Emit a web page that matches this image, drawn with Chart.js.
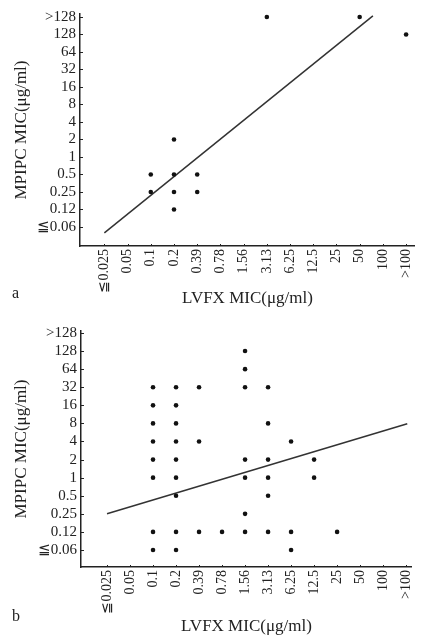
<!DOCTYPE html>
<html>
<head>
<meta charset="utf-8">
<script src="https://cdn.jsdelivr.net/npm/chart.js@4.4.1/dist/chart.umd.min.js"></script>
<style>
  body { margin: 0; background: #fff; width: 426px; height: 635px; position: relative; overflow: hidden; font-family: "Liberation Serif", serif; color: #222; }
  canvas { position: absolute; left: 0; }
  #chartA { top: 0; }
  #chartB { top: 318px; }
  .tag { position: absolute; left: 12px; font-size: 16px; line-height: 16px; }
</style>
</head>
<body>
<canvas id="chartA" width="426" height="318"></canvas>
<canvas id="chartB" width="426" height="317"></canvas>
<div class="tag" style="top:285px">a</div>
<div class="tag" style="top:608px">b</div>

<script>
// category axes (MIC dilution steps)
const xLabels = ['≦0.025', '0.05', '0.1', '0.2', '0.39', '0.78', '1.56', '3.13', '6.25', '12.5', '25', '50', '100', '>100'];
const yLabels = ['≦0.06', '0.12', '0.25', '0.5', '1', '2', '4', '8', '16', '32', '64', '128', '>128'];

// panel a: [LVFX MIC, MPIPC MIC]
const pointsA = [
    ['0.1', '0.5'], ['0.1', '0.25'],
    ['0.2', '2'], ['0.2', '0.5'], ['0.2', '0.25'], ['0.2', '0.12'],
    ['0.39', '0.5'], ['0.39', '0.25'],
    ['3.13', '>128'], ['50', '>128'], ['>100', '128']
];

// panel b: [LVFX MIC, MPIPC MIC]
const pointsB = [
    ['0.1', '32'], ['0.1', '16'], ['0.1', '8'], ['0.1', '4'], ['0.1', '2'], ['0.1', '1'], ['0.1', '0.12'], ['0.1', '≦0.06'],
    ['0.2', '32'], ['0.2', '16'], ['0.2', '8'], ['0.2', '4'], ['0.2', '2'], ['0.2', '1'], ['0.2', '0.5'], ['0.2', '0.12'], ['0.2', '≦0.06'],
    ['0.39', '32'], ['0.39', '4'], ['0.39', '0.12'],
    ['0.78', '0.12'],
    ['1.56', '128'], ['1.56', '64'], ['1.56', '32'], ['1.56', '2'], ['1.56', '1'], ['1.56', '0.25'], ['1.56', '0.12'],
    ['3.13', '32'], ['3.13', '8'], ['3.13', '2'], ['3.13', '1'], ['3.13', '0.5'], ['3.13', '0.12'],
    ['6.25', '4'], ['6.25', '0.12'], ['6.25', '≦0.06'],
    ['12.5', '2'], ['12.5', '1'],
    ['25', '0.12']
];

// regression lines, ends given in dilution-step units
const fitA = [{ x: 0, y: -0.34 }, { x: 11.57, y: 12.06 }];
const fitB = [{ x: 0, y: 2.0 }, { x: 13.05, y: 6.98 }];

const ink = '#222';
const serif = '"Liberation Serif", "DejaVu Serif", serif';

function toXY(pairs) {
    return pairs.map(p => ({ x: xLabels.indexOf(p[0]), y: yLabels.indexOf(p[1]) }));
}

// small tick marks pointing into the plot
const innerTicks = {
    id: 'innerTicks',
    afterDraw(chart) {
        const ctx = chart.ctx, xs = chart.scales.x, ys = chart.scales.y, area = chart.chartArea;
        ctx.save();
        ctx.strokeStyle = ink;
        ctx.lineWidth = 1;
        ctx.beginPath();
        ys.ticks.forEach(t => {
            const py = Math.round(ys.getPixelForValue(t.value)) + 0.5;
            ctx.moveTo(area.left, py);
            ctx.lineTo(area.left + 3, py);
        });
        xs.ticks.forEach(t => {
            const px = Math.round(xs.getPixelForValue(t.value)) + 0.5;
            ctx.moveTo(px, area.bottom);
            ctx.lineTo(px, area.bottom - 2);
        });
        ctx.stroke();
        ctx.restore();
    }
};

function makeChart(id, points, fit, cfg) {
    return new Chart(document.getElementById(id), {
        type: 'scatter',
        data: {
            datasets: [{
                data: toXY(points),
                backgroundColor: '#111',
                borderWidth: 0,
                pointRadius: 2.3,
                clip: false
            }, {
                type: 'line',
                data: fit,
                borderColor: '#333',
                borderWidth: 1.5,
                pointRadius: 0,
                fill: false
            }]
        },
        options: {
            responsive: false,
            animation: false,
            events: [],
            layout: { padding: { top: cfg.top, right: 2, left: 0, bottom: 0 } },
            plugins: { legend: { display: false }, tooltip: { enabled: false } },
            scales: {
                x: {
                    type: 'linear',
                    min: cfg.xMin,
                    max: cfg.xMax,
                    afterBuildTicks: s => { s.ticks = xLabels.map((_, i) => ({ value: i })); },
                    afterFit: s => { s.height = cfg.xHeight; },
                    grid: { display: false, drawTicks: false },
                    border: { display: true, color: ink, width: 1.5 },
                    ticks: {
                        autoSkip: false,
                        minRotation: 90,
                        maxRotation: 90,
                        padding: 3,
                        color: ink,
                        font: { family: serif, size: 14 },
                        callback: v => xLabels[v]
                    },
                    title: {
                        display: true,
                        text: 'LVFX MIC(μg/ml)',
                        color: ink,
                        font: { family: serif, size: 17, lineHeight: 1 },
                        padding: { top: 0, bottom: cfg.xTitlePad }
                    }
                },
                y: {
                    type: 'linear',
                    min: cfg.yMin,
                    max: cfg.yMax,
                    afterBuildTicks: s => { s.ticks = yLabels.map((_, i) => ({ value: i })); },
                    afterFit: s => { s.width = cfg.yWidth; },
                    grid: { display: false, drawTicks: false },
                    border: { display: true, color: ink, width: 1.5 },
                    ticks: {
                        autoSkip: false,
                        padding: 4,
                        color: ink,
                        font: { family: serif, size: 15 },
                        callback: v => yLabels[v]
                    },
                    title: {
                        display: true,
                        text: 'MPIPC MIC(μg/ml)',
                        color: ink,
                        font: { family: serif, size: 17, lineHeight: 1 },
                        padding: { top: 13, bottom: 0 }
                    }
                }
            }
        },
        plugins: [innerTicks]
    });
}

makeChart('chartA', pointsA, fitA, {
    top: 14, xHeight: 72, yWidth: 80, xTitlePad: 11,
    xMin: -1.05, xMax: 13.38, yMin: -1.09, yMax: 12.17
});

makeChart('chartB', pointsB, fitB, {
    top: 13, xHeight: 68, yWidth: 81, xTitlePad: 0,
    xMin: -1.13, xMax: 13.25, yMin: -0.94, yMax: 12.11
});
</script>
</body>
</html>
